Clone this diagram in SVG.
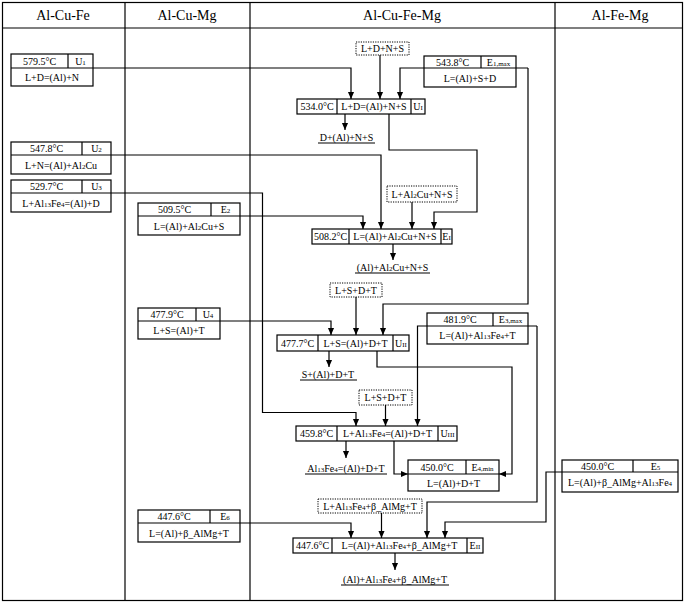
<svg xmlns="http://www.w3.org/2000/svg" width="685" height="603" viewBox="0 0 685 603">
<defs>
<style>
text{font-family:"Liberation Serif","Times New Roman",serif;font-size:10px;text-anchor:middle;fill:#000}
.h{font-size:14px}
.s{font-size:7px}
.b{fill:#fff;stroke:#000;stroke-width:1.2}
.d{fill:#fff;stroke:#000;stroke-width:1;stroke-dasharray:1.2 1.2}
.l{fill:none;stroke:#000;stroke-width:1.2}
.c{fill:none;stroke:#000;stroke-width:1.2}
.a{fill:none;stroke:#000;stroke-width:1.2;marker-end:url(#ar)}
</style>
<marker id="ar" viewBox="0 0 8 8" refX="8" refY="4" markerWidth="7" markerHeight="8" markerUnits="userSpaceOnUse" orient="auto">
<path d="M0,0.5 L8,4 L0,7.5 z" fill="#000"/>
</marker>
</defs>
<rect x="0" y="0" width="685" height="603" fill="#fff"/>
<g id="table">
<rect x="2.5" y="2.5" width="680" height="598" class="l"/>
<line x1="2.5" y1="28" x2="682.5" y2="28" class="l"/>
<line x1="125" y1="2.5" x2="125" y2="600.5" class="l"/>
<line x1="250" y1="2.5" x2="250" y2="600.5" class="l"/>
<line x1="555" y1="2.5" x2="555" y2="600.5" class="l"/>
<text class="h" x="63" y="20">Al-Cu-Fe</text>
<text class="h" x="187" y="20">Al-Cu-Mg</text>
<text class="h" x="402" y="20">Al-Cu-Fe-Mg</text>
<text class="h" x="620" y="20">Al-Fe-Mg</text>
</g>
<g id="connectors">
<path class="a" d="M93,68 H351 V99"/>
<path class="a" d="M380,55 V99"/>
<path class="a" d="M528,68 H400 V99"/>
<path class="a" d="M528,68 V304 H383 V335"/>
<path class="a" d="M345,114 V130"/>
<path class="a" d="M389,114 V150 H477 V212 H434 V229"/>
<path class="a" d="M111,155 H381 V229"/>
<path class="a" d="M412,202 V229"/>
<path class="a" d="M240,216 H363 V229"/>
<path class="a" d="M393,244 V260"/>
<path class="a" d="M111,193 H262.5 V412.5 H356 V426"/>
<path class="a" d="M356,297 V335"/>
<path class="a" d="M220,321 H331 V335"/>
<path class="a" d="M329,351 V367"/>
<path class="a" d="M377,351 V367 H512 V474 H499"/>
<path class="a" d="M537,326 H417.5 V426"/>
<path class="a" d="M537,326 V502 H427 V538"/>
<path class="a" d="M385.5,405 V426"/>
<path class="a" d="M346,441 V458"/>
<path class="a" d="M394,441 V474 H408"/>
<path class="a" d="M562,472 H546 V522 H445 V538"/>
<path class="a" d="M240,523 H351 V538"/>
<path class="a" d="M381.5,513 V538"/>
<path class="a" d="M395,553 V570"/>
</g>
<g id="U1">
<rect class="b" x="11" y="54" width="82" height="32"/>
<line class="l" x1="11" y1="68" x2="93" y2="68"/><line class="l" x1="68" y1="54" x2="68" y2="68"/>
<text x="39.5" y="65">579.5°C</text><text x="80.5" y="65">U<tspan class="s">1</tspan></text>
<text x="52" y="81">L+D=(Al)+N</text>
</g>
<g id="U2">
<rect class="b" x="11" y="142" width="100" height="32"/>
<line class="l" x1="11" y1="155" x2="111" y2="155"/><line class="l" x1="82" y1="142" x2="82" y2="155"/>
<text x="46.5" y="152">547.8°C</text><text x="96.5" y="152">U<tspan class="s">2</tspan></text>
<text x="61" y="169">L+N=(Al)+Al<tspan class="s">2</tspan>Cu</text>
</g>
<g id="U3">
<rect class="b" x="11" y="180" width="100" height="32"/>
<line class="l" x1="11" y1="193" x2="111" y2="193"/><line class="l" x1="82" y1="180" x2="82" y2="193"/>
<text x="46.5" y="190">529.7°C</text><text x="96.5" y="190">U<tspan class="s">3</tspan></text>
<text x="61" y="207">L+Al<tspan class="s">13</tspan>Fe<tspan class="s">4</tspan>=(Al)+D</text>
</g>
<g id="E2">
<rect class="b" x="138" y="203" width="102" height="32"/>
<line class="l" x1="138" y1="216" x2="240" y2="216"/><line class="l" x1="211" y1="203" x2="211" y2="216"/>
<text x="174.5" y="213">509.5°C</text><text x="225.5" y="213">E<tspan class="s">2</tspan></text>
<text x="189" y="230">L=(Al)+Al<tspan class="s">2</tspan>Cu+S</text>
</g>
<g id="U4">
<rect class="b" x="138" y="308" width="82" height="31"/>
<line class="l" x1="138" y1="321" x2="220" y2="321"/><line class="l" x1="196" y1="308" x2="196" y2="321"/>
<text x="167" y="318">477.9°C</text><text x="208" y="318">U<tspan class="s">4</tspan></text>
<text x="179" y="334">L+S=(Al)+T</text>
</g>
<g id="E6">
<rect class="b" x="138" y="510" width="102" height="32"/>
<line class="l" x1="138" y1="523" x2="240" y2="523"/><line class="l" x1="210" y1="510" x2="210" y2="523"/>
<text x="174" y="520">447.6°C</text><text x="225" y="520">E<tspan class="s">6</tspan></text>
<text x="189" y="537">L=(Al)+β_AlMg+T</text>
</g>
<g id="E1max">
<rect class="b" x="424" y="56" width="92" height="31"/>
<line class="l" x1="424" y1="68" x2="516" y2="68"/><line class="l" x1="481" y1="56" x2="481" y2="68"/>
<text x="452.5" y="65.5">543.8°C</text><text x="498.5" y="65.5">E<tspan class="s">1,max</tspan></text>
<text x="470" y="82">L=(Al)+S+D</text>
</g>
<g id="E3max">
<rect class="b" x="427" y="313" width="101" height="31"/>
<line class="l" x1="427" y1="326" x2="528" y2="326"/><line class="l" x1="493" y1="313" x2="493" y2="326"/>
<text x="460" y="323">481.9°C</text><text x="510.5" y="323">E<tspan class="s">3,max</tspan></text>
<text x="477.5" y="339">L=(Al)+Al<tspan class="s">13</tspan>Fe<tspan class="s">4</tspan>+T</text>
</g>
<g id="E4min">
<rect class="b" x="408" y="460" width="91" height="31"/>
<line class="l" x1="408" y1="474" x2="499" y2="474"/><line class="l" x1="466" y1="460" x2="466" y2="474"/>
<text x="437" y="471">450.0°C</text><text x="482.5" y="471">E<tspan class="s">4,min</tspan></text>
<text x="453.5" y="486.5">L=(Al)+D+T</text>
</g>
<g id="E5">
<rect class="b" x="562" y="460" width="116" height="32"/>
<line class="l" x1="562" y1="472" x2="678" y2="472"/><line class="l" x1="633" y1="460" x2="633" y2="472"/>
<text x="597.5" y="469.5">450.0°C</text><text x="655.5" y="469.5">E<tspan class="s">5</tspan></text>
<text x="620" y="486">L=(Al)+β_AlMg+Al<tspan class="s">13</tspan>Fe<tspan class="s">4</tspan></text>
</g>
<g id="UI">
<rect class="b" x="297" y="99" width="128" height="15"/>
<line class="l" x1="337" y1="99" x2="337" y2="114"/><line class="l" x1="411" y1="99" x2="411" y2="114"/>
<text x="317" y="110">534.0°C</text><text x="374" y="110">L+D=(Al)+N+S</text><text x="418" y="110">U<tspan class="s">I</tspan></text>
</g>
<g id="EI">
<rect class="b" x="312" y="229" width="140" height="15"/>
<line class="l" x1="349" y1="229" x2="349" y2="244"/><line class="l" x1="441" y1="229" x2="441" y2="244"/>
<text x="330.5" y="240">508.2°C</text><text x="395" y="240">L=(Al)+Al<tspan class="s">2</tspan>Cu+N+S</text><text x="446.5" y="240">E<tspan class="s">I</tspan></text>
</g>
<g id="UII">
<rect class="b" x="277" y="335" width="132" height="16"/>
<line class="l" x1="318" y1="335" x2="318" y2="351"/><line class="l" x1="393" y1="335" x2="393" y2="351"/>
<text x="297.5" y="346.5">477.7°C</text><text x="355.5" y="346.5">L+S=(Al)+D+T</text><text x="401" y="346.5">U<tspan class="s">II</tspan></text>
</g>
<g id="UIII">
<rect class="b" x="296" y="426" width="161" height="15"/>
<line class="l" x1="337" y1="426" x2="337" y2="441"/><line class="l" x1="438" y1="426" x2="438" y2="441"/>
<text x="316.5" y="437">459.8°C</text><text x="387.5" y="437">L+Al<tspan class="s">13</tspan>Fe<tspan class="s">4</tspan>=(Al)+D+T</text><text x="447.5" y="437">U<tspan class="s">III</tspan></text>
</g>
<g id="EII">
<rect class="b" x="293" y="538" width="190" height="15"/>
<line class="l" x1="332" y1="538" x2="332" y2="553"/><line class="l" x1="467" y1="538" x2="467" y2="553"/>
<text x="312.5" y="549">447.6°C</text><text x="399.5" y="549">L=(Al)+Al<tspan class="s">13</tspan>Fe<tspan class="s">4</tspan>+β_AlMg+T</text><text x="475" y="549">E<tspan class="s">II</tspan></text>
</g>
<g id="D1"><rect class="d" x="356" y="42" width="53" height="13"/><text x="382.5" y="52">L+D+N+S</text></g>
<g id="D2"><rect class="d" x="387" y="186" width="70" height="16"/><text x="422" y="197.5">L+Al<tspan class="s">2</tspan>Cu+N+S</text></g>
<g id="D3"><rect class="d" x="330" y="283" width="52" height="14"/><text x="356" y="293.5">L+S+D+T</text></g>
<g id="D4"><rect class="d" x="359" y="390" width="53" height="15"/><text x="385.5" y="401">L+S+D+T</text></g>
<g id="D5"><rect class="d" x="318" y="499" width="104" height="14"/><text x="370" y="509.5">L+Al<tspan class="s">13</tspan>Fe<tspan class="s">4</tspan>+β_AlMg+T</text></g>
<g id="P1"><text x="346.5" y="140.5">D+(Al)+N+S</text><line class="l" x1="318" y1="143" x2="375" y2="143"/></g>
<g id="P2"><text x="392.5" y="270.5">(Al)+Al<tspan class="s">2</tspan>Cu+N+S</text><line class="l" x1="355" y1="273" x2="430" y2="273"/></g>
<g id="P3"><text x="328" y="377.5">S+(Al)+D+T</text><line class="l" x1="300" y1="380" x2="357" y2="380"/></g>
<g id="P4"><text x="346" y="471.5">Al<tspan class="s">13</tspan>Fe<tspan class="s">4</tspan>=(Al)+D+T</text><line class="l" x1="305" y1="474" x2="387" y2="474"/></g>
<g id="P5"><text x="395" y="582.5">(Al)+Al<tspan class="s">13</tspan>Fe<tspan class="s">4</tspan>+β_AlMg+T</text><line class="l" x1="341" y1="585" x2="449" y2="585"/></g>
</svg>
